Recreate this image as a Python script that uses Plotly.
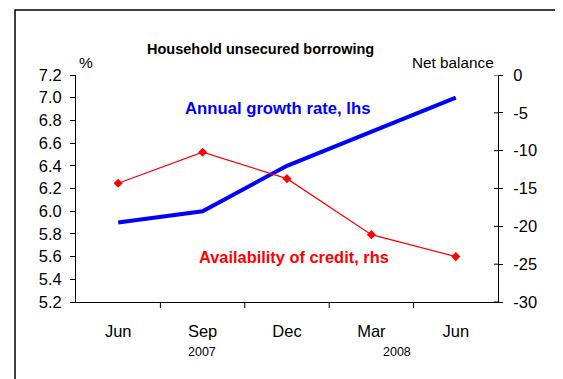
import plotly.graph_objects as go

categories = ["Jun", "Sep", "Dec", "Mar", "Jun"]
years = ["2007", "2008"]
growth_rate = [5.9, 6.0, 6.4, 6.7, 7.0]
credit_availability = [-14.3, -10.2, -13.7, -21.1, -24.0]
left_ticks = [5.2, 5.4, 5.6, 5.8, 6.0, 6.2, 6.4, 6.6, 6.8, 7.0, 7.2]
right_ticks = [0, -5, -10, -15, -20, -25, -30]

OFF = 8  # page body margin
W, H = 563 - OFF, 379 - OFF
# plot area in page pixel coords
L, R, T, B = 76, 498, 75, 302

def px(x):
    return (x - L) / (R - L)

def py(y):
    return (B - y) / (B - T)

xs = list(range(len(categories)))

fig = go.Figure()
fig.add_trace(go.Scatter(x=xs, y=growth_rate, mode="lines",
                         line=dict(color="#0000ff", width=4), yaxis="y",
                         showlegend=False, hoverinfo="skip"))
fig.add_trace(go.Scatter(x=xs, y=credit_availability, mode="lines+markers",
                         line=dict(color="#ff0000", width=1.2),
                         marker=dict(symbol="diamond", size=7, color="#ff0000"),
                         yaxis="y2", showlegend=False, hoverinfo="skip"))

font = "Arial, Liberation Sans, sans-serif"
TF = 16.5

fig.update_layout(
    width=W, height=H,
    margin=dict(l=L - OFF, r=W + OFF - R, t=T - OFF, b=H + OFF - B, pad=0),
    paper_bgcolor="white", plot_bgcolor="white",
    font=dict(family=font, color="black", size=TF),
    xaxis=dict(range=[-0.5, 4.5], tickmode="array", tickvals=xs, ticktext=categories,
               ticks="", showline=True, linecolor="black", linewidth=1,
               showgrid=False, zeroline=False, tickfont=dict(size=TF), ticklabelstandoff=14),
    yaxis=dict(range=[5.2, 7.2], tickmode="array", tickvals=left_ticks,
               ticktext=[f"{v:.1f}" for v in left_ticks],
               ticks="outside", ticklen=5, tickcolor="black", showline=True,
               linecolor="black", linewidth=1, showgrid=False, zeroline=False,
               tickfont=dict(size=TF), ticklabelstandoff=5),
    yaxis2=dict(range=[-30, 0], overlaying="y", side="right", tickmode="array",
                tickvals=right_ticks, ticktext=[str(v) for v in right_ticks],
                ticks="outside", ticklen=4, tickcolor="black", showline=True,
                linecolor="black", linewidth=1, showgrid=False, zeroline=False,
                tickfont=dict(size=TF), ticklabelstandoff=7),
)

shapes = []
# category separator ticks on x-axis
for i in range(1, len(categories)):
    shapes.append(dict(type="line", xref="x", yref="paper", x0=i - 0.5, x1=i - 0.5,
                       y0=0, y1=-6 / (B - T), line=dict(color="black", width=1)))
# inner halves of right-axis cross ticks
for v in right_ticks:
    shapes.append(dict(type="line", xref="paper", yref="y2", x0=1 - 4 / (R - L), x1=1,
                       y0=v, y1=v, line=dict(color="black", width=1)))
# outer border
shapes.append(dict(type="rect", xref="paper", yref="paper",
                   x0=px(15), x1=px(561), y0=py(395), y1=py(10),
                   line=dict(color="black", width=1.5), fillcolor="rgba(0,0,0,0)"))
fig.update_layout(shapes=shapes)

ann = [
    dict(text="<b>Household unsecured borrowing</b>", x=px(260), y=py(49), font=dict(size=14.5)),
    dict(text="%", x=px(86), y=py(62), font=dict(size=15.5)),
    dict(text="Net balance", x=px(453), y=py(62), font=dict(size=15.3)),
    dict(text="<b>Annual growth rate, lhs</b>", x=px(277), y=py(108),
         font=dict(size=16.7, color="#0000ff")),
    dict(text="<b>Availability of credit, rhs</b>", x=px(293.5), y=py(257),
         font=dict(size=16.4, color="#ff0000")),
    dict(text=years[0], x=px(202), y=py(352), font=dict(size=12.5)),
    dict(text=years[1], x=px(397), y=py(352), font=dict(size=12.5)),
]
for a in ann:
    a.update(xref="paper", yref="paper", showarrow=False, xanchor="center", yanchor="middle")
fig.update_layout(annotations=ann)

fig.write_html("out.html")
